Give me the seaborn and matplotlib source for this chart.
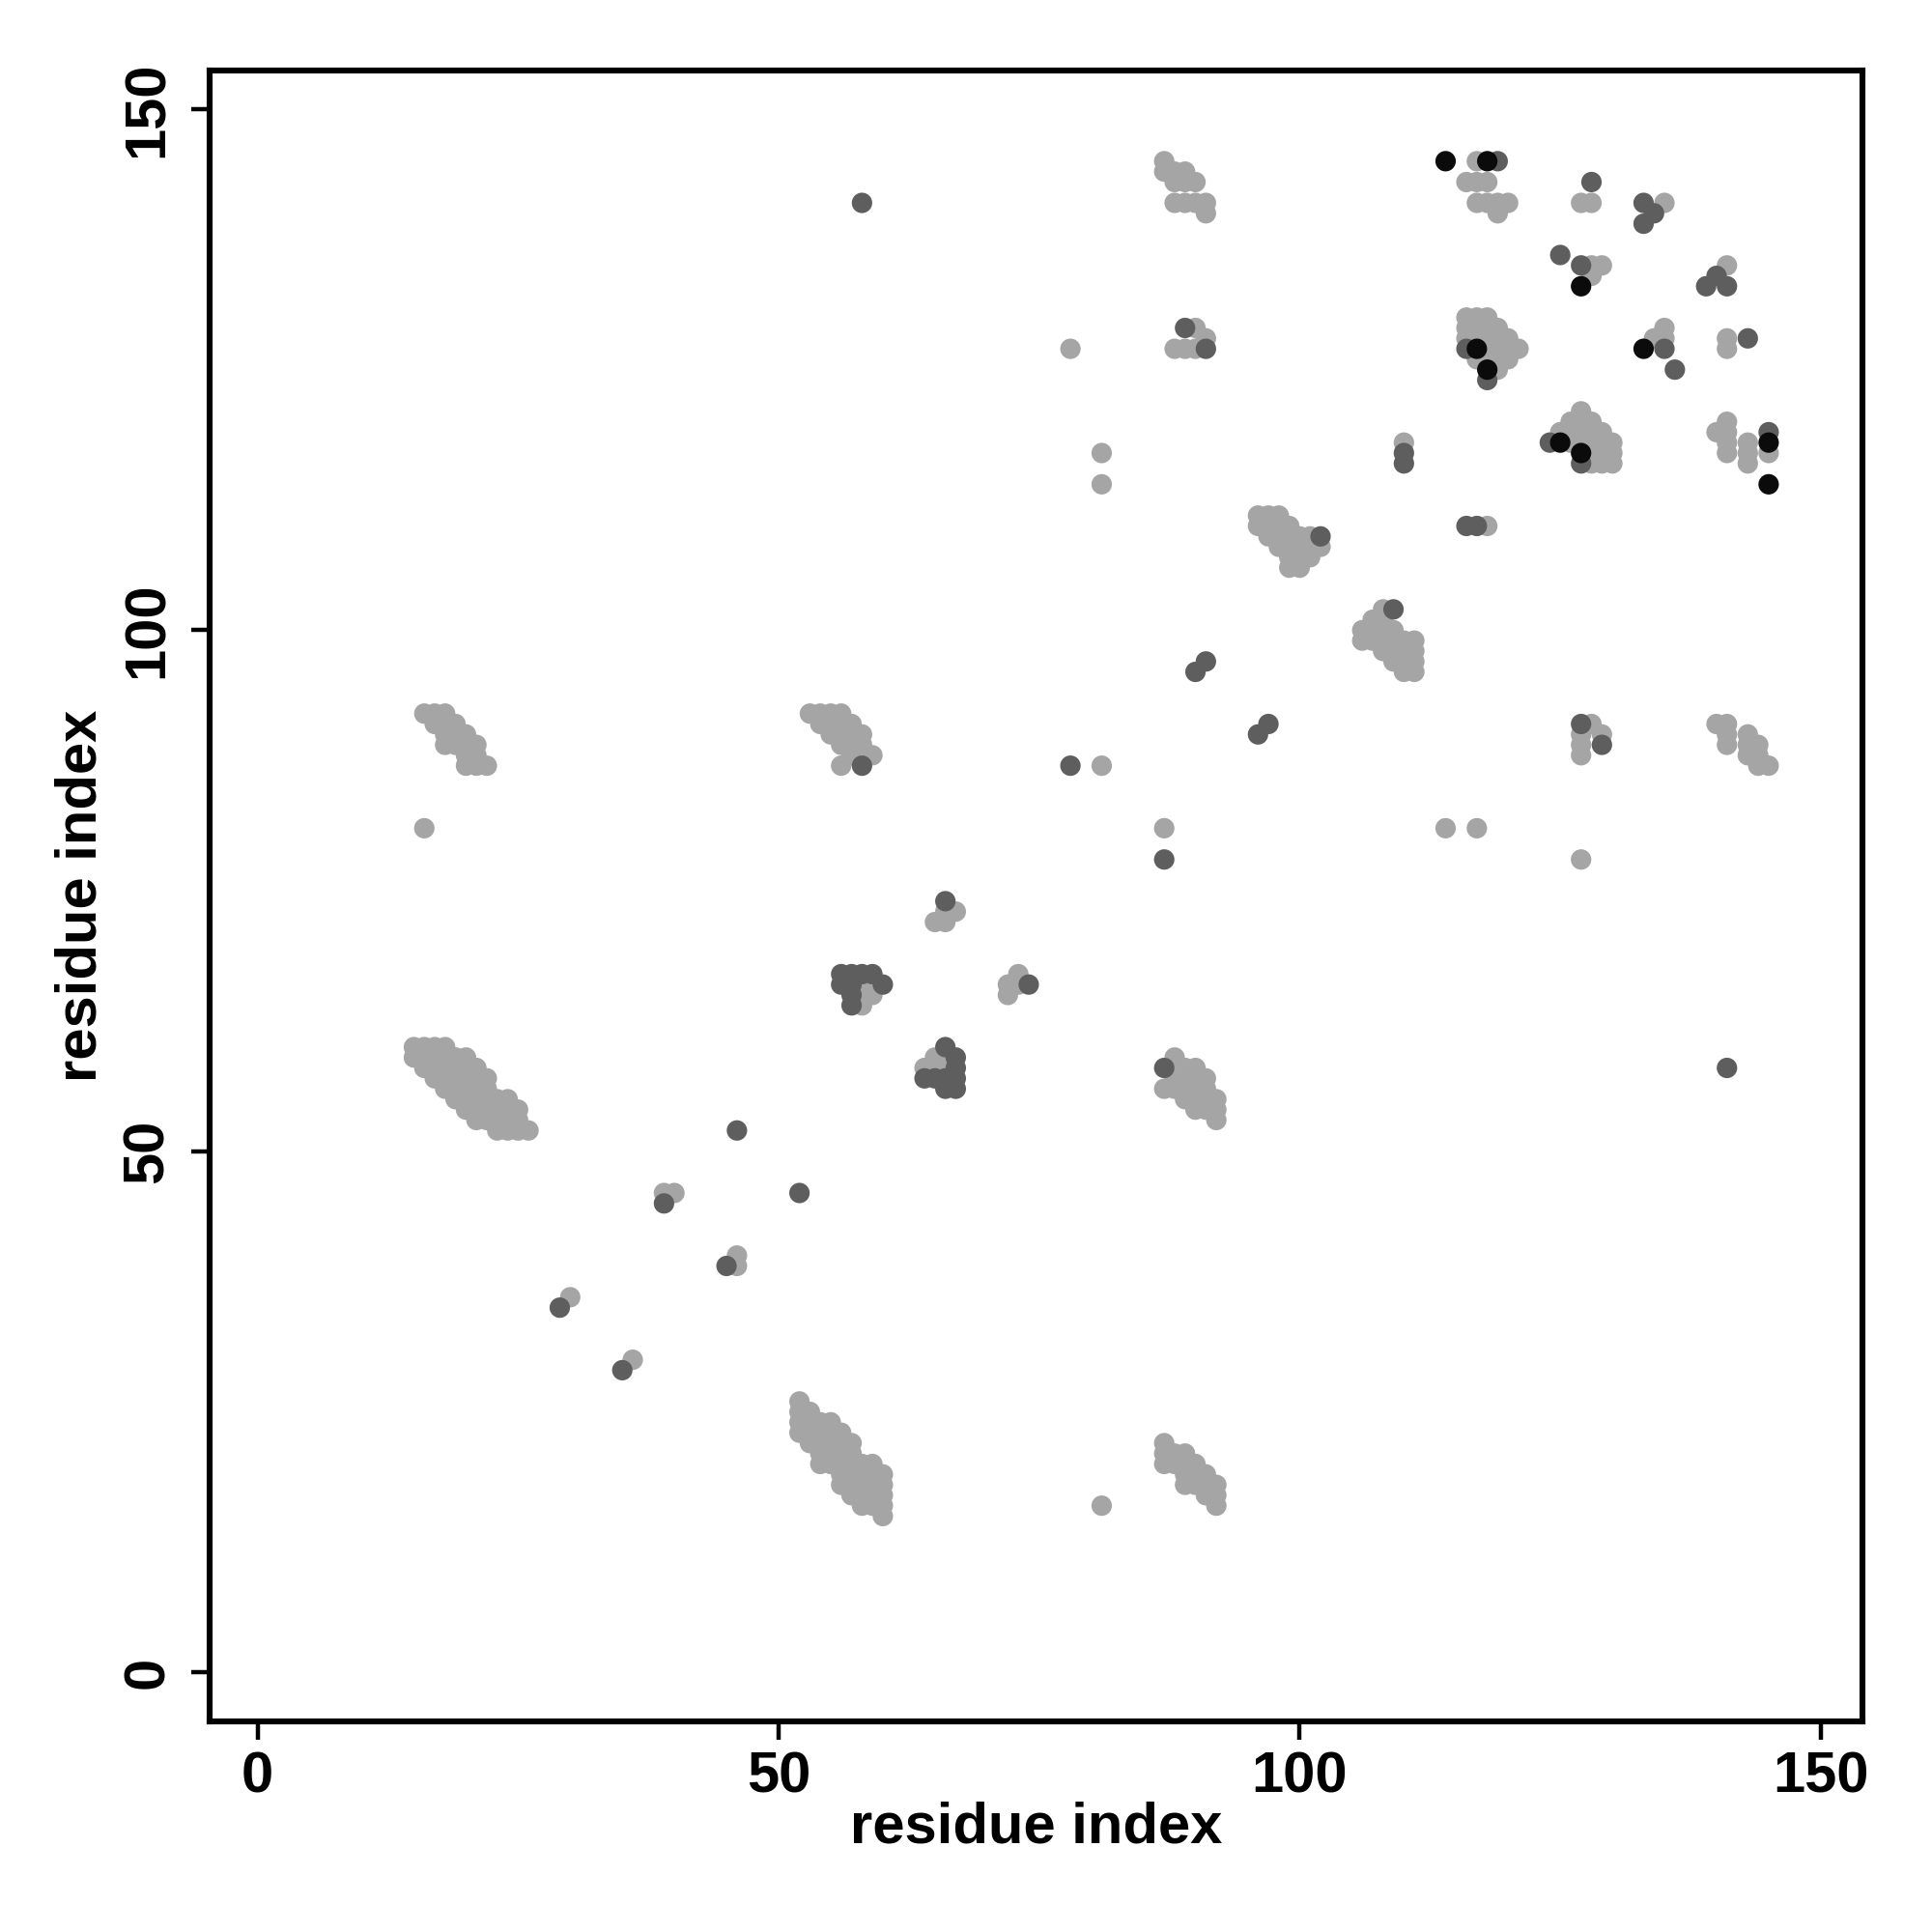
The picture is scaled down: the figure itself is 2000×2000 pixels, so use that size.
import matplotlib
matplotlib.use("Agg")
import matplotlib.pyplot as plt
import seaborn as sns
import pandas as pd

# ---------------- data (residue i, residue j) per contact class ----------------
light_contacts = [
    # top cluster near 87-91 / 140-145
    (87,145),(87,144),(88,144),(89,144),(88,143),(89,143),(90,143),
    (88,141),(89,141),(90,141),(91,141),(91,140),
    # 114-120 / 140-145
    (117,145),(116,143),(117,143),(118,143),(117,141),(118,141),(119,141),(120,141),(119,140),
    (127,141),(128,141),(135,141),(128,135),(129,135),(128,134),(141,135),
    (78,127),(90,129),(91,128),(88,127),(89,127),(90,127),
    # 116-121 / 124-130
    (116,130),(117,130),(118,130),(116,129),(117,129),(118,129),(119,129),
    (116,128),(117,128),(118,128),(119,128),(120,128),(118,127),(119,127),(120,127),(121,127),
    (117,126),(118,126),(119,126),(120,126),(119,125),
    (135,129),(134,128),(135,128),(141,128),(141,127),
    # 124-130 / 116-121
    (127,121),(126,120),(127,120),(128,120),(125,119),(126,119),(127,119),(128,119),(129,119),
    (126,118),(127,118),(128,118),(129,118),(130,118),(128,117),(129,117),(130,117),
    (128,116),(129,116),(130,116),
    # 140-145 / 114-120
    (140,119),(141,120),(141,119),(141,118),(141,117),(143,118),(143,117),(143,116),(145,117),
    (81,117),(81,114),(110,118),(118,110),
    # 96-102 / 106-111
    (96,111),(97,111),(98,111),(96,110),(97,110),(98,110),(99,110),
    (97,109),(98,109),(99,109),(100,109),(101,109),
    (98,108),(99,108),(100,108),(101,108),(102,108),(99,107),(100,107),(101,107),(99,106),(100,106),
    # 106-111 / 96-102
    (108,102),(107,101),(108,101),(106,100),(107,100),(108,100),(109,100),
    (106,99),(107,99),(108,99),(109,99),(110,99),(111,99),
    (108,98),(109,98),(110,98),(111,98),(109,97),(110,97),(111,97),(110,96),(111,96),
    # 16-22 / 87-92
    (16,92),(17,92),(18,92),(17,91),(18,91),(19,91),(18,90),(19,90),(20,90),
    (18,89),(19,89),(20,89),(21,89),(20,88),(21,88),(20,87),(21,87),(22,87),
    # 53-59 / 87-92
    (53,92),(54,92),(55,92),(56,92),(54,91),(55,91),(56,91),(57,91),
    (55,90),(56,90),(57,90),(58,90),(56,89),(57,89),(58,89),(57,88),(59,88),(56,87),
    (81,87),(16,81),(87,81),(114,81),(117,81),(127,78),
    # 127-129 / 88-91
    (128,91),(129,90),(127,90),(127,89),(127,88),
    # 140-145 / 87-91
    (140,91),(141,91),(141,90),(141,89),(143,90),(143,89),(143,88),(144,89),(144,88),(144,87),(145,87),
    # middle clusters
    (66,73),(67,73),(65,72),(66,72),
    (58,66),(59,66),(58,65),(59,65),(58,64),
    (73,67),(72,66),(73,66),(72,65),
    (65,59),(66,59),(64,58),(65,58),(66,58),
    # 15-26 / 52-60
    (15,60),(16,60),(17,60),(18,60),
    (15,59),(16,59),(17,59),(18,59),(19,59),(20,59),
    (16,58),(17,58),(18,58),(19,58),(20,58),(21,58),
    (17,57),(18,57),(19,57),(20,57),(21,57),(22,57),
    (18,56),(19,56),(20,56),(21,56),(22,56),
    (19,55),(20,55),(21,55),(22,55),(23,55),(24,55),
    (20,54),(21,54),(22,54),(23,54),(24,54),(25,54),
    (21,53),(22,53),(23,53),(24,53),(25,53),
    (23,52),(24,52),(25,52),(26,52),
    # 87-92 / 53-59
    (88,59),(89,58),(90,58),(88,57),(89,57),(90,57),(91,57),
    (87,56),(88,56),(89,56),(90,56),(91,56),(89,55),(90,55),(91,55),(92,55),
    (90,54),(91,54),(92,54),(92,53),
    # diagonal singles
    (39,46),(40,46),(46,40),(46,39),(30,36),(36,30),
    # 52-60 / 15-26
    (52,26),(52,25),(53,25),(52,24),(53,24),(54,24),(55,24),
    (52,23),(53,23),(54,23),(55,23),(56,23),
    (53,22),(54,22),(55,22),(56,22),(57,22),
    (54,21),(55,21),(56,21),(57,21),
    (54,20),(55,20),(56,20),(57,20),(58,20),(59,20),
    (56,19),(57,19),(58,19),(59,19),(60,19),
    (56,18),(57,18),(58,18),(59,18),(60,18),
    (57,17),(58,17),(59,17),(60,17),(58,16),(59,16),(60,16),(60,15),
    # 87-92 / 16-22
    (87,22),(87,21),(88,21),(89,21),(87,20),(88,20),(89,20),(90,20),
    (89,19),(90,19),(91,19),(89,18),(90,18),(91,18),(92,18),(91,17),(92,17),(92,16),
    (81,16),
]

dark_contacts = [
    (119,145),(58,141),(128,143),(133,141),(134,140),(133,139),
    (125,136),(127,135),(139,133),(140,134),(141,133),
    (89,129),(91,127),(116,127),(118,124),(135,127),(136,125),(143,128),
    (124,118),(127,116),(145,119),(110,117),(110,116),(116,110),(117,110),
    (102,109),(109,102),(90,96),(91,97),(96,90),(97,91),
    (58,87),(78,87),(87,78),(127,91),(129,89),
    (66,74),(56,67),(57,67),(58,67),(59,67),(56,66),(57,66),(60,66),(57,65),(57,64),
    (74,66),(66,60),(67,59),(67,58),(64,57),(65,57),(66,57),(67,57),(66,56),(67,56),
    (141,58),(87,58),(46,52),(52,46),(39,45),(45,39),(29,35),(35,29),
]

black_contacts = [
    (114,145),(118,145),(127,133),(117,127),(118,125),(133,127),
    (125,118),(127,117),(145,118),(145,114),
]

shade_colors = {"light": "#a5a5a5", "dark": "#5e5e5e", "black": "#0b0b0b"}
axis_ticks = [0, 50, 100, 150]

# ---------------- build frame ----------------
rows = []
for name, pts in (("light", light_contacts), ("dark", dark_contacts), ("black", black_contacts)):
    for i, j in pts:
        rows.append({"i": i, "j": j, "shade": name})
df = pd.DataFrame(rows)

sns.set_theme(style="white")
plt.rcParams["font.family"] = ["Liberation Sans", "DejaVu Sans"]
plt.rcParams["font.weight"] = "bold"

fig = plt.figure(figsize=(10, 10), dpi=200)
ax = fig.add_axes([0.1085, 0.109, 0.8555, 0.8545])

sns.scatterplot(data=df, x="i", y="j", hue="shade", palette=shade_colors,
                s=58, linewidth=0, edgecolor="none", legend=False, ax=ax)

ax.set_xlim(-4.6, 154.0)
ax.set_ylim(-4.7, 153.7)
ax.set_xticks(axis_ticks)
ax.set_yticks(axis_ticks)
ax.set_xticklabels([str(t) for t in axis_ticks], fontsize=21.5, fontweight="bold", color="black")
ax.set_yticklabels([str(t) for t in axis_ticks], fontsize=21.5, fontweight="bold",
                   rotation=90, va="center", color="black")

for sp in ax.spines.values():
    sp.set_visible(True)
    sp.set_color("black")
    sp.set_linewidth(2.2)

ax.tick_params(axis="both", which="major", direction="out", length=7, width=1.6,
               color="black", labelcolor="black", bottom=True, left=True, top=False, right=False)
ax.tick_params(axis="x", pad=4)
ax.tick_params(axis="y", pad=6)

ax.set_xlabel("residue index", fontsize=21.5, fontweight="bold", va="center", color="black")
ax.set_ylabel("residue index", fontsize=21.5, fontweight="bold", va="center", color="black")
ax.xaxis.set_label_coords(0.5, -0.0644)
ax.yaxis.set_label_coords(-0.0775, 0.5)

fig.savefig("out.png", dpi=200)
